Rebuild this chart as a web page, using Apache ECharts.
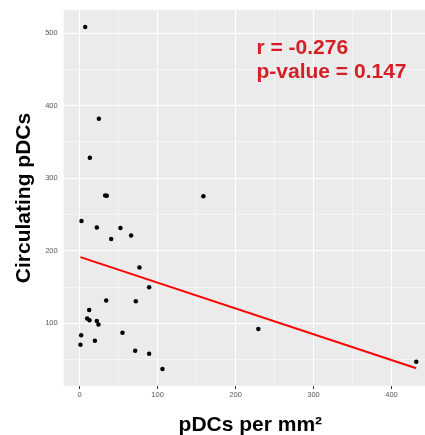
<!DOCTYPE html>
<html>
<head>
<meta charset="utf-8">
<script src="https://cdn.jsdelivr.net/npm/echarts@6/dist/echarts.min.js"></script>
<style>html,body{margin:0;padding:0;background:#fff}#c{width:425px;height:435px}</style>
</head>
<body>
<div id="c"></div>
<script>
// Data
const pdcsPerMm2 = [7.1, 24.6, 13, 32.7, 34.8, 158.7, 2.3, 22, 52.3, 40.4, 66, 76.7, 89.1, 34, 72, 12.2, 9.6, 12.6, 22, 24.1, 1.9, 1, 19.5, 54.9, 71.2, 89.1, 106.2, 229.2, 431.8];
const circulatingPdcs = [508, 381.8, 328, 276, 275.6, 275, 240.7, 232, 231, 216, 220.8, 176.7, 149.6, 131.2, 130.3, 118.3, 106.4, 104.1, 103.2, 98.1, 83.4, 70.5, 76, 87, 62.2, 58.1, 37, 92.1, 47];
const fitLineX = [1, 431.8];
const fitLineY = [191, 38];
const xTicks = [0, 100, 200, 300, 400];
const xMinorGrid = [50, 150, 250, 350];
const yTicks = [100, 200, 300, 400, 500];
const yMinorGrid = [50, 150, 250, 350, 450];
const annotationLines = ['r = -0.276', 'p-value = 0.147'];

const points = pdcsPerMm2.map((x, i) => [x, circulatingPdcs[i]]);
const fitLine = fitLineX.map((x, i) => [x, fitLineY[i]]);

const majorStyle = {color: '#FFFFFF', width: 1.1, type: 'solid'};
const minorStyle = {color: '#FFFFFF', width: 0.5, type: 'solid'};
const gridLines = []
  .concat(xMinorGrid.map(v => ({xAxis: v, lineStyle: minorStyle})))
  .concat(yMinorGrid.map(v => ({yAxis: v, lineStyle: minorStyle})))
  .concat(xTicks.map(v => ({xAxis: v, lineStyle: majorStyle})))
  .concat(yTicks.map(v => ({yAxis: v, lineStyle: majorStyle})));

const chart = echarts.init(document.getElementById('c'), null, {renderer: 'canvas'});
const font = '"Liberation Sans", Arial, sans-serif';
chart.setOption({
  animation: false,
  backgroundColor: '#FFFFFF',
  grid: {left: 63.7, top: 10, right: 0, bottom: 49, show: true, backgroundColor: '#EBEBEB', borderWidth: 0, containLabel: false, outerBoundsMode: 'none'},
  xAxis: {
    type: 'value', min: -20.5, max: 443,
    name: 'pDCs per mm²', nameLocation: 'middle', nameGap: 29,
    nameTextStyle: {fontFamily: font, fontWeight: 'bold', fontSize: 21, color: '#000', padding: [0, 0, 0, 12]},
    axisLine: {show: false},
    axisTick: {show: true, length: 3, customValues: xTicks, lineStyle: {color: '#333', width: 1}},
    axisLabel: {customValues: xTicks, margin: 5, fontFamily: font, fontSize: 7.5, color: '#555'},
    splitLine: {show: false}
  },
  yAxis: {
    type: 'value', min: 13.5, max: 531.5,
    name: 'Circulating pDCs', nameLocation: 'middle', nameGap: 28.5,
    nameTextStyle: {fontFamily: font, fontWeight: 'bold', fontSize: 21, color: '#000'},
    axisLine: {show: false},
    axisTick: {show: true, length: 3, customValues: yTicks, lineStyle: {color: '#333', width: 1}},
    axisLabel: {customValues: yTicks, margin: 6, fontFamily: font, fontSize: 7.5, color: '#555'},
    splitLine: {show: false}
  },
  graphic: annotationLines.map((t, i) => ({
    type: 'text', left: 256.5, top: 38 + i * 24, silent: true, z: 100,
    style: {text: t, fill: '#D41F26', font: 'bold 21px ' + font}
  })),
  series: [
    {
      type: 'line', data: [], z: 1, silent: true,
      markLine: {silent: true, z: 1, symbol: ['none', 'none'], label: {show: false}, animation: false, data: gridLines}
    },
    {
      type: 'scatter', data: points, symbol: 'circle', symbolSize: 4.5, z: 3,
      itemStyle: {color: '#000000', opacity: 1}
    },
    {
      type: 'line', data: fitLine, showSymbol: false, symbol: 'none', z: 4,
      lineStyle: {color: '#FF0000', width: 2}
    }
  ]
});
</script>
</body>
</html>
